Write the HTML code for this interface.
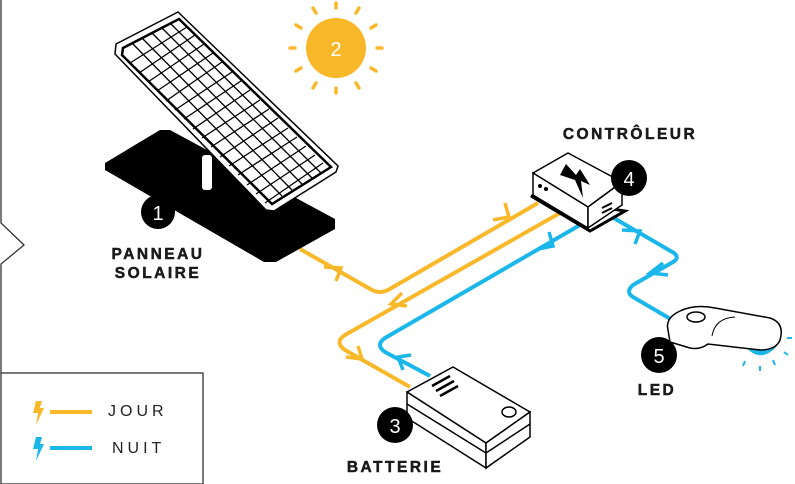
<!DOCTYPE html>
<html><head><meta charset="utf-8"><style>
html,body{margin:0;padding:0;background:#fff;}
svg{display:block;}
text{font-family:"Liberation Sans",sans-serif;}
.lbl{font-weight:bold;font-size:15.5px;letter-spacing:2.5px;fill:#1a1a1a;text-anchor:middle;stroke:#1a1a1a;stroke-width:0.5;}
.num{font-size:20px;fill:#fff;text-anchor:middle;}
</style></head><body>
<svg width="795" height="484" viewBox="0 0 795 484" xmlns="http://www.w3.org/2000/svg">
<polyline points="1,0 1,223 24,245 1,264 1,373" fill="none" stroke="#333" stroke-width="1.3"/>
<rect x="1" y="373" width="202" height="111" fill="none" stroke="#333" stroke-width="1.3"/>
<polygon points="36,401 42,401 40,408 44,408 36,425 38,413 33,413" fill="#F9B82A"/>
<line x1="50" y1="412" x2="92" y2="412" stroke="#F9B82A" stroke-width="4"/>
<text x="108" y="416" font-size="16" letter-spacing="4" fill="#222">JOUR</text>
<polygon points="36,437 42,437 40,444 44,444 36,461 38,449 33,449" fill="#1BB6EA"/>
<line x1="50" y1="448" x2="92" y2="448" stroke="#1BB6EA" stroke-width="4"/>
<text x="112" y="453" font-size="16" letter-spacing="4" fill="#222">NUIT</text>

<circle cx="336" cy="48" r="30" fill="#F9B82A"/>
<text x="336" y="56" class="num">2</text>
<g stroke="#F9B82A" stroke-width="3.5" stroke-linecap="round">
<line x1="336" y1="3" x2="336" y2="8"/><line x1="336" y1="88" x2="336" y2="93"/>
<line x1="290" y1="48" x2="295" y2="48"/><line x1="377" y1="48" x2="382" y2="48"/>
<line x1="313" y1="8" x2="316" y2="13"/><line x1="359" y1="8" x2="356" y2="13"/>
<line x1="313" y1="88" x2="316" y2="83"/><line x1="359" y1="88" x2="356" y2="83"/>
<line x1="296" y1="25" x2="301" y2="28"/><line x1="376" y1="25" x2="371" y2="28"/>
<line x1="296" y1="71" x2="301" y2="68"/><line x1="376" y1="71" x2="371" y2="68"/>
</g>

<g fill="none" stroke-width="4" stroke-linejoin="round" stroke-linecap="butt">
<path d="M300,249 L372,290 Q380,294 388,290 L538,203" stroke="#F9B82A"/>
<path d="M560,213 L345,335 Q334,342 345,350 L410,387" stroke="#F9B82A"/>
<path d="M430,376 L385,352 Q375,345 385,338 L580,225" stroke="#1BB6EA"/>
<path d="M612,217 L674,253 Q680,258 673,262 L633,285 Q625,292 633,297 L674,321" stroke="#1BB6EA"/>
</g>
<g fill="none" stroke-width="3.5">
<polyline points="324,267 341,268 336,281" stroke="#F9B82A"/>
<polyline points="493,220 509,217 505,203" stroke="#F9B82A"/>
<polyline points="402,293 391,304 407,306" stroke="#F9B82A"/>
<polyline points="346,357 362,359 358,346" stroke="#F9B82A"/>
<polyline points="538,249 553,246 549,232" stroke="#1BB6EA"/>
<polyline points="411,355 398,357 403,370" stroke="#1BB6EA"/>
<polyline points="622,230 640,231 635,244" stroke="#1BB6EA"/>
<polyline points="663,263 650,273 668,275" stroke="#1BB6EA"/>
</g>

<polygon points="105,163 160,130 170,130 335,219 335,229 276,262 264,262 105,170" fill="#000"/>
<rect x="202" y="155" width="10" height="35" rx="3" fill="#fff"/>
<g>
<polygon points="116,44 178,12 338,166 336,172 274,211 266,210 115,54" fill="#fff" stroke="#000" stroke-width="1.5"/>
<polygon points="123,48 179,19 331,167 272,204 122,55" fill="#fff" stroke="#000" stroke-width="2.5"/>
<g stroke="#000" stroke-width="1.3">
<line x1="132" y1="43" x2="282" y2="196"/><line x1="142" y1="38" x2="292" y2="190"/>
<line x1="152" y1="33" x2="302" y2="184"/><line x1="162" y1="28" x2="312" y2="178"/>
<line x1="171" y1="24" x2="321" y2="173"/>
<line x1="130" y1="63" x2="187" y2="27"/><line x1="139" y1="73" x2="195" y2="35"/>
<line x1="148" y1="82" x2="204" y2="44"/><line x1="157" y1="91" x2="213" y2="53"/>
<line x1="166" y1="101" x2="222" y2="62"/><line x1="175" y1="110" x2="232" y2="72"/>
<line x1="184" y1="119" x2="241" y2="81"/><line x1="193" y1="129" x2="250" y2="90"/>
<line x1="202" y1="138" x2="260" y2="100"/><line x1="211" y1="147" x2="269" y2="109"/>
<line x1="220" y1="157" x2="278" y2="118"/><line x1="229" y1="166" x2="288" y2="128"/>
<line x1="238" y1="175" x2="297" y2="137"/><line x1="247" y1="185" x2="306" y2="146"/>
<line x1="256" y1="194" x2="315" y2="155"/><line x1="265" y1="203" x2="323" y2="163"/>
</g>
</g>
<circle cx="158" cy="212" r="17" fill="#000"/>
<text x="158" y="220" class="num">1</text>
<text x="158" y="259" class="lbl">PANNEAU</text>
<text x="158" y="278" class="lbl">SOLAIRE</text>

<polygon points="531,196 590,231 625,211" fill="none" stroke="#000" stroke-width="3"/>
<polygon points="533,173 568,153 622,182 588,207" fill="#fff" stroke="#000" stroke-width="1.5" stroke-linejoin="round"/>
<polygon points="533,173 588,207 588,228 533,195" fill="#fff" stroke="#000" stroke-width="1.5"/>
<polygon points="588,207 622,182 622,205 588,228" fill="#fff" stroke="#000" stroke-width="1.5"/>
<circle cx="540" cy="186" r="2" fill="#000"/><circle cx="546" cy="189" r="2" fill="#000"/>
<polygon points="566,164 560,175 575,180 583,198 581,181 590,185 580,169 576,175" fill="#000"/>
<g stroke="#000" stroke-width="2"><line x1="602" y1="208" x2="612" y2="203"/><line x1="602" y1="213" x2="612" y2="208"/></g>
<circle cx="629" cy="178" r="18" fill="#000"/>
<text x="629" y="186" class="num">4</text>
<text x="630" y="139" class="lbl">CONTRÔLEUR</text>

<polygon points="410,402 488,454 530,428 530,436 488,462 410,412" fill="#000"/>
<polygon points="407,392 453,367 530,412 486,443" fill="#fff" stroke="#000" stroke-width="1.5" stroke-linejoin="round"/>
<polygon points="407,392 486,443 486,468 407,418" fill="#fff" stroke="#000" stroke-width="1.5"/>
<polygon points="486,443 530,412 530,437 486,468" fill="#fff" stroke="#000" stroke-width="1.5"/>
<line x1="407" y1="404" x2="486" y2="453" stroke="#000" stroke-width="1.5"/>
<line x1="486" y1="453" x2="530" y2="424" stroke="#000" stroke-width="1.5"/>
<g stroke="#000" stroke-width="2.5"><line x1="432" y1="386" x2="450" y2="376"/><line x1="436" y1="391" x2="454" y2="381"/><line x1="440" y1="396" x2="458" y2="386"/></g>
<ellipse cx="509" cy="412" rx="7" ry="5" fill="#fff" stroke="#000" stroke-width="1.5"/>
<circle cx="395" cy="425" r="18" fill="#000"/>
<text x="395" y="433" class="num">3</text>
<text x="395" y="472" class="lbl">BATTERIE</text>

<path d="M744,345 Q760,365 777,346 Z" fill="#1BB6EA"/>
<path d="M668,330 Q665,318 680,311 Q695,304 715,308 L770,318 Q785,323 780,340 Q776,350 760,350 L708,344 Q700,350 690,348 L670,342 Z" fill="#fff" stroke="#000" stroke-width="1.5"/>
<ellipse cx="696" cy="317" rx="9" ry="5" fill="#fff" stroke="#000" stroke-width="1.5"/>
<path d="M712,336 Q715,318 735,317" fill="none" stroke="#000" stroke-width="1"/>
<g stroke="#1BB6EA" stroke-width="2"><line x1="743" y1="366" x2="745" y2="361"/><line x1="760" y1="371" x2="760" y2="366"/><line x1="775" y1="365" x2="773" y2="360"/><line x1="788" y1="355" x2="784" y2="352"/><line x1="792" y1="338" x2="787" y2="338"/></g>
<circle cx="659" cy="355" r="18" fill="#000"/>
<text x="659" y="363" class="num">5</text>
<text x="657" y="395" class="lbl">LED</text>
</svg>
</body></html>
